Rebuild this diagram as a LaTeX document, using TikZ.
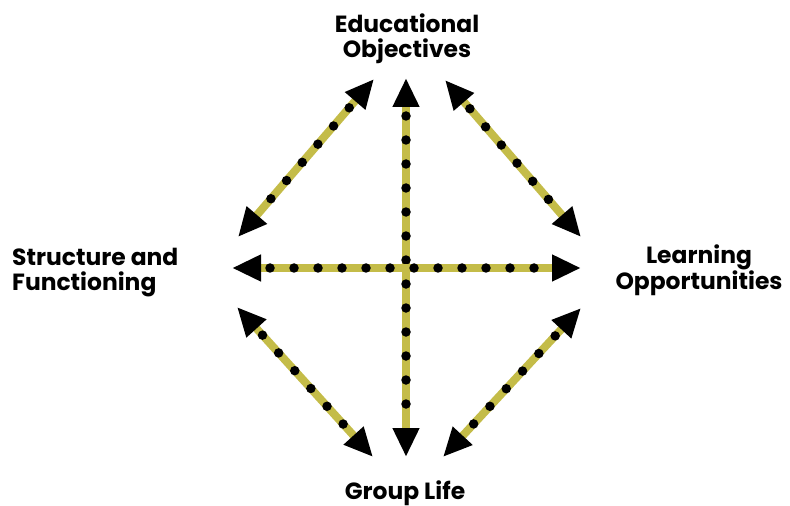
\documentclass[tikz,border=0pt]{standalone}
\usepackage{fontspec}
\setmainfont{Poppins}
\usetikzlibrary{arrows.meta,positioning}
\definecolor{linkolive}{RGB}{196,188,72}

\tikzset{
  topic/.style={font=\bfseries\fontsize{23.5}{25}\selectfont, inner sep=0pt},
  link/.style={draw=linkolive, line width=8bp,
    {Triangle[length=29bp,width=25bp,color=black]}-{Triangle[length=29bp,width=25bp,color=black]}},
  beads/.style={draw=black, line width=9.5bp, line cap=round,
    dash pattern=on 0bp off 24bp, shorten <=38bp, shorten >=38bp},
}

\begin{document}
\begin{tikzpicture}[x=1bp, y=-1bp]
\useasboundingbox (0,0) rectangle (790,506);

% the four topics
\node[topic, align=center] (edu) at (407,39) {Educational\\Objectives};
\node[topic, align=left, anchor=west] (struct) at (12,273) {Structure and\\Functioning};
\node[topic, align=center] (learn) at (699,270) {Learning\\Opportunities};
\node[topic] (group) at (405,493) {Group Life};

% arrow ends
\coordinate (eoV) at (406,78);   \coordinate (glV) at (406,457);
\coordinate (sfH) at (232,268);  \coordinate (loH) at (581,268);
\coordinate (eoL) at (374,79);   \coordinate (sfT) at (238,237);
\coordinate (eoR) at (445,80);   \coordinate (loT) at (581,237);
\coordinate (sfB) at (237,307);  \coordinate (glL) at (373,457);
\coordinate (loB) at (581,308);  \coordinate (glR) at (443,457);

\foreach \a/\b in {eoV/glV, sfH/loH, eoL/sfT, eoR/loT, sfB/glL, loB/glR} {
  \draw[link] (\a) -- (\b);
  \draw[beads] (\a) -- (\b);
}
\end{tikzpicture}
\end{document}
